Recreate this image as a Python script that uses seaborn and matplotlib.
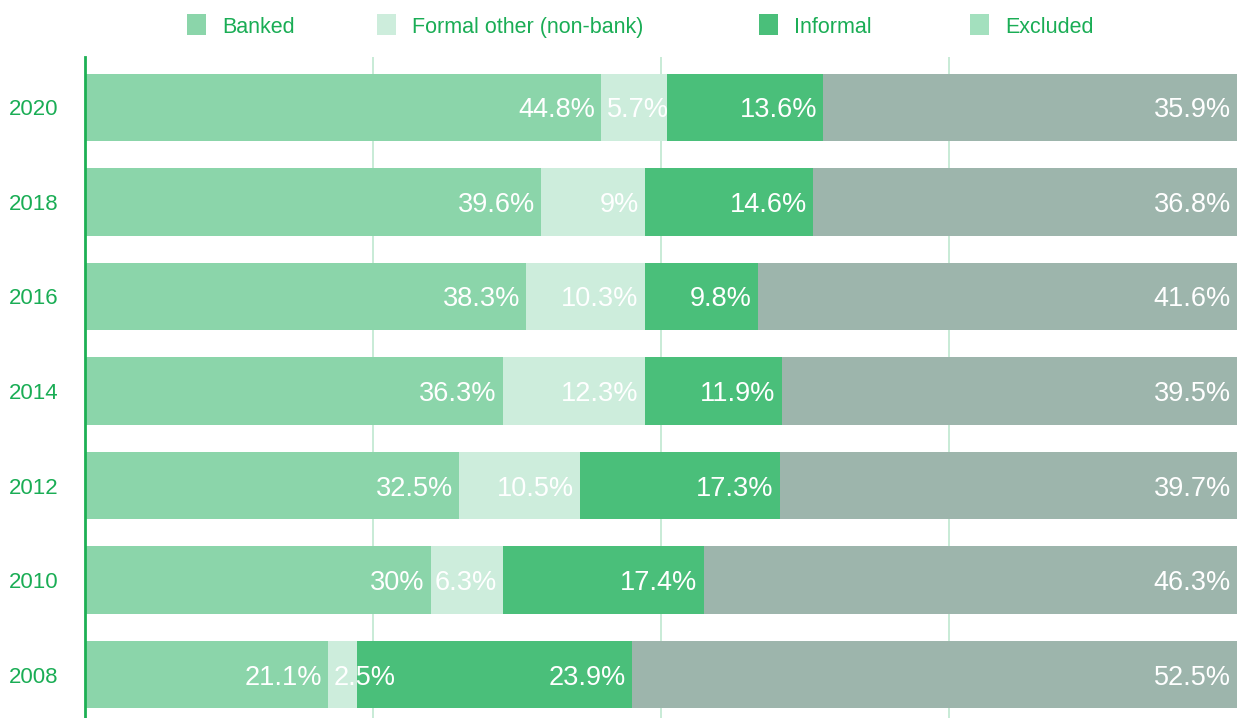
import numpy as np
import pandas as pd
import matplotlib
matplotlib.use("Agg")
import matplotlib.pyplot as plt
import seaborn as sns
from matplotlib.patches import Rectangle

years = ["2020", "2018", "2016", "2014", "2012", "2010", "2008"]
series_names = ["Banked", "Formal other (non-bank)", "Informal", "Excluded"]
banked = [44.8, 39.6, 38.3, 36.3, 32.5, 30.0, 21.1]
formal_other = [5.7, 9.0, 10.3, 12.3, 10.5, 6.3, 2.5]
informal = [13.6, 14.6, 9.8, 11.9, 17.3, 17.4, 23.9]
excluded = [35.9, 36.8, 41.6, 39.5, 39.7, 46.3, 52.5]
label_texts = [
    ["44.8%", "39.6%", "38.3%", "36.3%", "32.5%", "30%", "21.1%"],
    ["5.7%", "9%", "10.3%", "12.3%", "10.5%", "6.3%", "2.5%"],
    ["13.6%", "14.6%", "9.8%", "11.9%", "17.3%", "17.4%", "23.9%"],
    ["35.9%", "36.8%", "41.6%", "39.5%", "39.7%", "46.3%", "52.5%"],
]

bar_colors = ["#8bd5aa", "#cdeddc", "#4abf7a", "#9db5ac"]
legend_colors = ["#8bd5aa", "#cdeddc", "#4abf7a", "#a3e0be"]
text_green = "#1aad55"

sns.set_theme(style="white")
plt.rcParams["font.family"] = ["Liberation Sans", "DejaVu Sans"]

values = np.array([banked, formal_other, informal, excluded])
cum = np.cumsum(values, axis=0)
starts = cum - values

fig = plt.figure(figsize=(12.37, 7.18), dpi=100)
ax = fig.add_axes([85 / 1237, 0.0, 1 - 85 / 1237, (718 - 57) / 718])

# draw cumulative layers, largest first, so each visible piece is one segment
for i in range(3, -1, -1):
    df = pd.DataFrame({"year": years, "value": cum[i]})
    sns.barplot(data=df, x="value", y="year", order=years, orient="h",
                color=bar_colors[i], saturation=1, width=0.71, ax=ax,
                linewidth=0, zorder=2 + (3 - i) * 0.01)

ax.set_xlim(0, 100)
ax.set_ylim(6.46, -0.534)
ax.set_xlabel("")
ax.set_ylabel("")
ax.set_xticks([25, 50, 75])
ax.set_xticklabels([])
ax.tick_params(axis="x", length=0)
ax.tick_params(axis="y", length=0, pad=19, labelsize=16, labelcolor=text_green)
ax.grid(axis="x", color="#bfe8d0", linewidth=1.2, zorder=0)
ax.grid(axis="y", visible=False)
ax.set_axisbelow(True)
for s in ["top", "right", "bottom"]:
    ax.spines[s].set_visible(False)
ax.spines["left"].set_color("#1db054")
ax.spines["left"].set_linewidth(2)
ax.spines["left"].set_zorder(5)

# value labels: right-aligned inside segment; left-aligned when too narrow
pad = 0.55
for i in range(4):
    for j in range(len(years)):
        w = values[i, j]
        if w < 6.0:
            ax.text(starts[i, j] + 0.5, j, label_texts[i][j], ha="left",
                    va="center_baseline", color="white", fontsize=19.5, zorder=10)
        else:
            ax.text(cum[i, j] - pad, j, label_texts[i][j], ha="right",
                    va="center_baseline", color="white", fontsize=19.5, zorder=10)

# legend (manual, figure coords)
leg_x = [187, 377, 759, 970]
for x, name, c in zip(leg_x, series_names, legend_colors):
    fig.patches.append(Rectangle((x / 1237, 1 - 35 / 718), 19 / 1237, 21 / 718,
                                 transform=fig.transFigure, facecolor=c,
                                 edgecolor="none"))
    fig.text((x + 35) / 1237, 1 - 25 / 718, name, color=text_green,
             fontsize=15.5, va="center_baseline", ha="left")

fig.savefig("out.png", dpi=100)
